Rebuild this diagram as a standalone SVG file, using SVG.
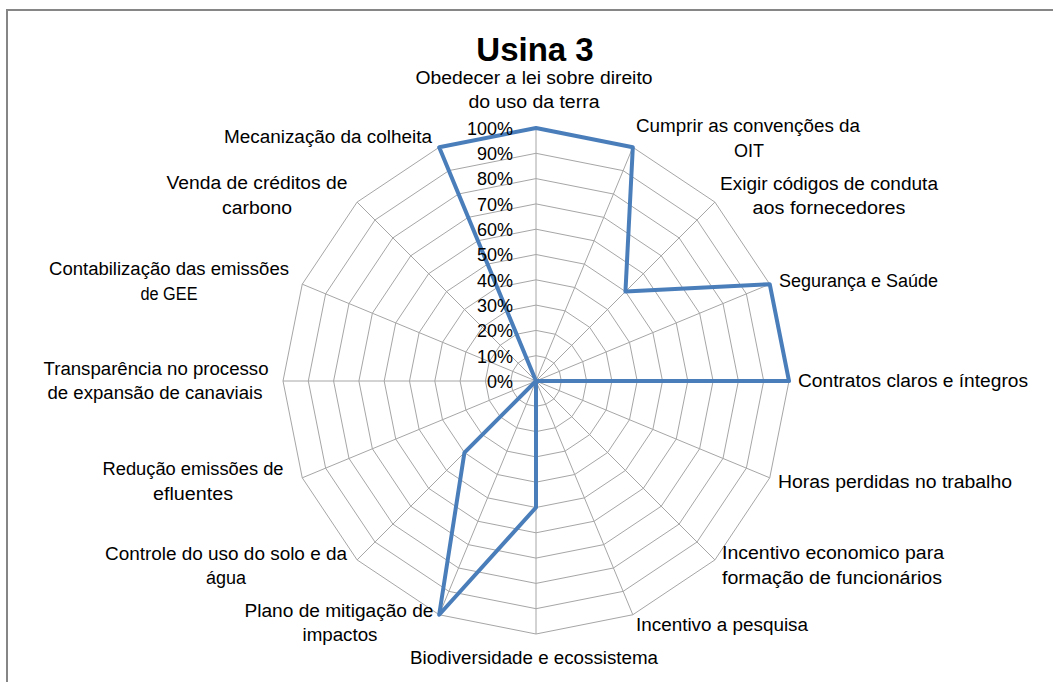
<svg xmlns="http://www.w3.org/2000/svg" xmlns:xlink="http://www.w3.org/1999/xlink" width="1053" height="682" viewBox="0 0 1053 682">
<style>
.lbl{font-family:"Liberation Sans",Arial,sans-serif;font-size:18px;fill:#000;}
.mid{text-anchor:middle;}
.pct{font-family:"Liberation Sans",Arial,sans-serif;font-size:18px;fill:#000;text-anchor:end;}
.title{font-family:"Liberation Sans",Arial,sans-serif;font-size:33px;font-weight:bold;fill:#000;text-anchor:middle;}
.ring{fill:none;stroke:#a6a6a6;stroke-width:1;vector-effect:non-scaling-stroke;}
.spoke{fill:none;stroke:#a6a6a6;stroke-width:1;}
.series{fill:none;stroke:#4a7ebb;stroke-width:4;stroke-linejoin:round;}
</style>
<defs>
<polygon id="ringShape" class="ring" points="0,-253 96.82,-233.74 178.9,-178.9 233.74,-96.82 253,0 233.74,96.82 178.9,178.9 96.82,233.74 0,253 -96.82,233.74 -178.9,178.9 -233.74,96.82 -253,0 -233.74,-96.82 -178.9,-178.9 -96.82,-233.74"/>
</defs>
<rect x="0" y="0" width="1053" height="682" fill="#fff"/>
<path d="M7,683 V10 H1054" fill="none" stroke="#868686" stroke-width="2"/>

<g id="grid" transform="translate(536,381)">
<path class="spoke" d="M0,0L0,-253M0,0L96.82,-233.74M0,0L178.9,-178.9M0,0L233.74,-96.82M0,0L253,0M0,0L233.74,96.82M0,0L178.9,178.9M0,0L96.82,233.74M0,0L0,253M0,0L-96.82,233.74M0,0L-178.9,178.9M0,0L-233.74,96.82M0,0L-253,0M0,0L-233.74,-96.82M0,0L-178.9,-178.9M0,0L-96.82,-233.74"/>
<use xlink:href="#ringShape" href="#ringShape" transform="scale(0.1)"/>
<use xlink:href="#ringShape" href="#ringShape" transform="scale(0.2)"/>
<use xlink:href="#ringShape" href="#ringShape" transform="scale(0.3)"/>
<use xlink:href="#ringShape" href="#ringShape" transform="scale(0.4)"/>
<use xlink:href="#ringShape" href="#ringShape" transform="scale(0.5)"/>
<use xlink:href="#ringShape" href="#ringShape" transform="scale(0.6)"/>
<use xlink:href="#ringShape" href="#ringShape" transform="scale(0.7)"/>
<use xlink:href="#ringShape" href="#ringShape" transform="scale(0.8)"/>
<use xlink:href="#ringShape" href="#ringShape" transform="scale(0.9)"/>
<use xlink:href="#ringShape" href="#ringShape"/>
</g>

<g id="series" transform="translate(536,381)">
<polygon class="series" points="0,-253 96.82,-233.74 89.45,-89.45 233.74,-96.82 253,0 0,0 0,0 0,0 0,126.5 -96.82,233.74 -71.56,71.56 0,0 0,0 0,0 0,0 -96.82,-233.74"/>
</g>

<g id="axis-labels">
<text class="pct" x="513" y="388">0%</text>
<text class="pct" x="513" y="363">10%</text>
<text class="pct" x="513" y="337">20%</text>
<text class="pct" x="513" y="312">30%</text>
<text class="pct" x="513" y="287">40%</text>
<text class="pct" x="513" y="261">50%</text>
<text class="pct" x="513" y="236">60%</text>
<text class="pct" x="513" y="211">70%</text>
<text class="pct" x="513" y="185">80%</text>
<text class="pct" x="513" y="160">90%</text>
<text class="pct" x="513" y="135" textLength="46" lengthAdjust="spacingAndGlyphs">100%</text>
</g>

<text id="title" class="title" x="535" y="61">Usina 3</text>

<g id="cat-obedecer">
<text class="lbl mid" x="534" y="84" textLength="237" lengthAdjust="spacingAndGlyphs">Obedecer a lei sobre direito</text>
<text class="lbl mid" x="534" y="108" textLength="131" lengthAdjust="spacingAndGlyphs">do uso da terra</text>
</g>
<g id="cat-cumprir">
<text class="lbl mid" x="748" y="132" textLength="224" lengthAdjust="spacingAndGlyphs">Cumprir as convenções da</text>
<text class="lbl mid" x="749" y="157">OIT</text>
</g>
<g id="cat-exigir">
<text class="lbl mid" x="829" y="190" textLength="218" lengthAdjust="spacingAndGlyphs">Exigir códigos de conduta</text>
<text class="lbl mid" x="829" y="214" textLength="153" lengthAdjust="spacingAndGlyphs">aos fornecedores</text>
</g>
<g id="cat-seguranca">
<text class="lbl" x="779" y="287" textLength="159" lengthAdjust="spacingAndGlyphs">Segurança e Saúde</text>
</g>
<g id="cat-contratos">
<text class="lbl" x="798" y="387" textLength="230" lengthAdjust="spacingAndGlyphs">Contratos claros e íntegros</text>
</g>
<g id="cat-horas">
<text class="lbl" x="778" y="488" textLength="234" lengthAdjust="spacingAndGlyphs">Horas perdidas no trabalho</text>
</g>
<g id="cat-incentivo-eco">
<text class="lbl mid" x="833" y="559" textLength="222" lengthAdjust="spacingAndGlyphs">Incentivo economico para</text>
<text class="lbl mid" x="832" y="584" textLength="220" lengthAdjust="spacingAndGlyphs">formação de funcionários</text>
</g>
<g id="cat-pesquisa">
<text class="lbl" x="636" y="631" textLength="172" lengthAdjust="spacingAndGlyphs">Incentivo a pesquisa</text>
</g>
<g id="cat-biodiversidade">
<text class="lbl mid" x="534" y="664" textLength="248" lengthAdjust="spacingAndGlyphs">Biodiversidade e ecossistema</text>
</g>
<g id="cat-plano">
<text class="lbl mid" x="339" y="617" textLength="189" lengthAdjust="spacingAndGlyphs">Plano de mitigação de</text>
<text class="lbl mid" x="340" y="641" textLength="75" lengthAdjust="spacingAndGlyphs">impactos</text>
</g>
<g id="cat-controle">
<text class="lbl mid" x="226" y="560" textLength="242" lengthAdjust="spacingAndGlyphs">Controle do uso do solo e da</text>
<text class="lbl mid" x="226" y="584" textLength="40" lengthAdjust="spacingAndGlyphs">água</text>
</g>
<g id="cat-reducao">
<text class="lbl mid" x="193" y="475" textLength="181" lengthAdjust="spacingAndGlyphs">Redução emissões de</text>
<text class="lbl mid" x="193" y="500" textLength="80" lengthAdjust="spacingAndGlyphs">efluentes</text>
</g>
<g id="cat-transparencia">
<text class="lbl mid" x="156" y="375" textLength="225" lengthAdjust="spacingAndGlyphs">Transparência no processo</text>
<text class="lbl mid" x="155" y="399" textLength="215" lengthAdjust="spacingAndGlyphs">de expansão de canaviais</text>
</g>
<g id="cat-contabilizacao">
<text class="lbl mid" x="169" y="275" textLength="240" lengthAdjust="spacingAndGlyphs">Contabilização das emissões</text>
<text class="lbl mid" x="169" y="300" textLength="57" lengthAdjust="spacingAndGlyphs">de GEE</text>
</g>
<g id="cat-venda">
<text class="lbl mid" x="257" y="189" textLength="181" lengthAdjust="spacingAndGlyphs">Venda de créditos de</text>
<text class="lbl mid" x="257" y="214" textLength="70" lengthAdjust="spacingAndGlyphs">carbono</text>
</g>
<g id="cat-mecanizacao">
<text class="lbl" x="224" y="143" textLength="208" lengthAdjust="spacingAndGlyphs">Mecanização da colheita</text>
</g>
</svg>
